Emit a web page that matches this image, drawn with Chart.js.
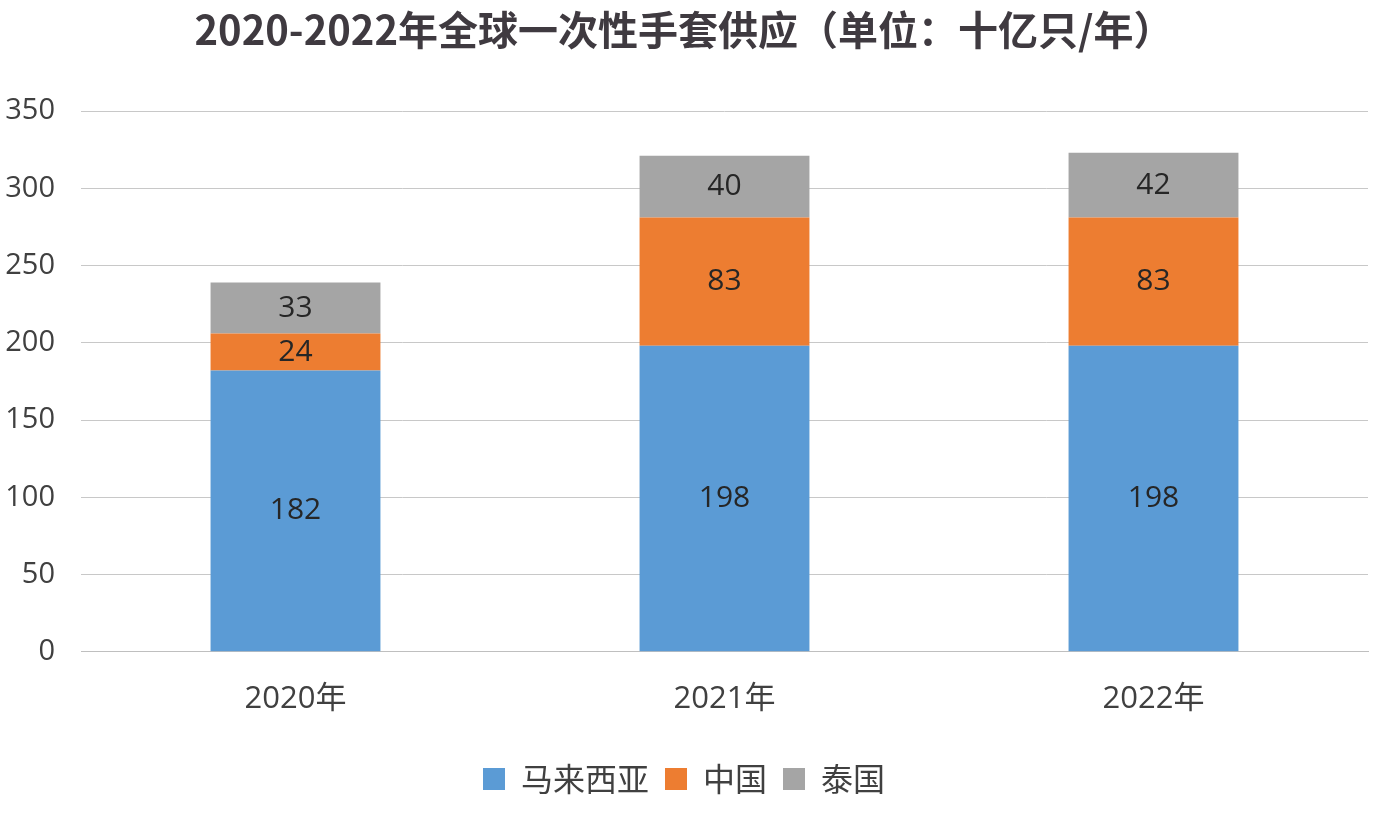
<!DOCTYPE html>
<html>
<head>
<meta charset="utf-8">
<script src="https://cdn.jsdelivr.net/npm/chart.js@4/dist/chart.umd.min.js"></script>
<style>
  html, body { margin: 0; padding: 0; background: #ffffff; }
  #wrap { width: 1380px; height: 820px; }
</style>
</head>
<body>
<div id="wrap"><canvas id="barChart"></canvas></div>
<script>
var years = ['2020年', '2021年', '2022年'];
var malaysia = [182, 198, 198];
var china = [24, 83, 83];
var thailand = [33, 40, 42];
var yTicks = [0, 50, 100, 150, 200, 250, 300, 350];

// simple value labels in the middle of each segment
var segmentLabels = {
    id: 'segmentLabels',
    afterDatasetsDraw: function (chart) {
        var ctx = chart.ctx;
        ctx.save();
        ctx.font = '30px "Open Sans", "Noto Sans CJK SC", sans-serif';
        ctx.fillStyle = '#262626';
        ctx.textAlign = 'center';
        ctx.textBaseline = 'middle';
        chart.data.datasets.forEach(function (ds, i) {
            chart.getDatasetMeta(i).data.forEach(function (bar, j) {
                ctx.fillText(ds.data[j], bar.x, (bar.y + bar.base) / 2);
            });
        });
        ctx.restore();
    }
};

document.addEventListener("DOMContentLoaded", () => {
    new Chart(document.getElementById('barChart'), {
        type: 'bar',
        data: {
            labels: years,
            datasets: [
                { label: '马来西亚', data: malaysia, backgroundColor: '#5b9bd5' },
                { label: '中国', data: china, backgroundColor: '#ed7d31' },
                { label: '泰国', data: thailand, backgroundColor: '#a5a5a5' }
            ]
        },
        options: {
            responsive: true,
            maintainAspectRatio: false,
            animation: false,
            categoryPercentage: 1,
            barPercentage: 0.396,
            layout: { padding: { left: 0, right: 12, top: 0, bottom: 15 } },
            plugins: {
                title: {
                    display: true,
                    text: '2020-2022年全球一次性手套供应（单位：十亿只/年）',
                    color: '#3f3a40',
                    font: { family: '"Noto Sans CJK SC", sans-serif', size: 40, weight: 'bold' },
                    padding: { top: 6, bottom: 57 }
                },
                legend: {
                    position: 'bottom',
                    labels: {
                        boxWidth: 22,
                        boxHeight: 22,
                        padding: 16,
                        color: '#404040',
                        font: { family: '"Noto Sans CJK SC", sans-serif', size: 32 }
                    }
                },
                tooltip: { enabled: false }
            },
            scales: {
                x: {
                    stacked: true,
                    grid: { display: false },
                    border: { color: '#bfbfbf' },
                    afterFit: function (s) { s.height += 8; },
                    ticks: {
                        color: '#404040',
                        padding: 21,
                        font: { family: '"Open Sans", "Noto Sans CJK SC", sans-serif', size: 31 }
                    }
                },
                y: {
                    stacked: true,
                    min: 0,
                    max: 350,
                    afterBuildTicks: function (s) { s.ticks = yTicks.map(v => ({ value: v })); },
                    afterFit: function (s) { s.width = 81; },
                    grid: { color: '#c8c8c8', drawTicks: false },
                    border: { display: false },
                    ticks: {
                        color: '#404040',
                        padding: 26,
                        font: { family: '"Open Sans", sans-serif', size: 29 }
                    }
                }
            }
        },
        plugins: [segmentLabels]
    });
});
</script>
</body>
</html>
